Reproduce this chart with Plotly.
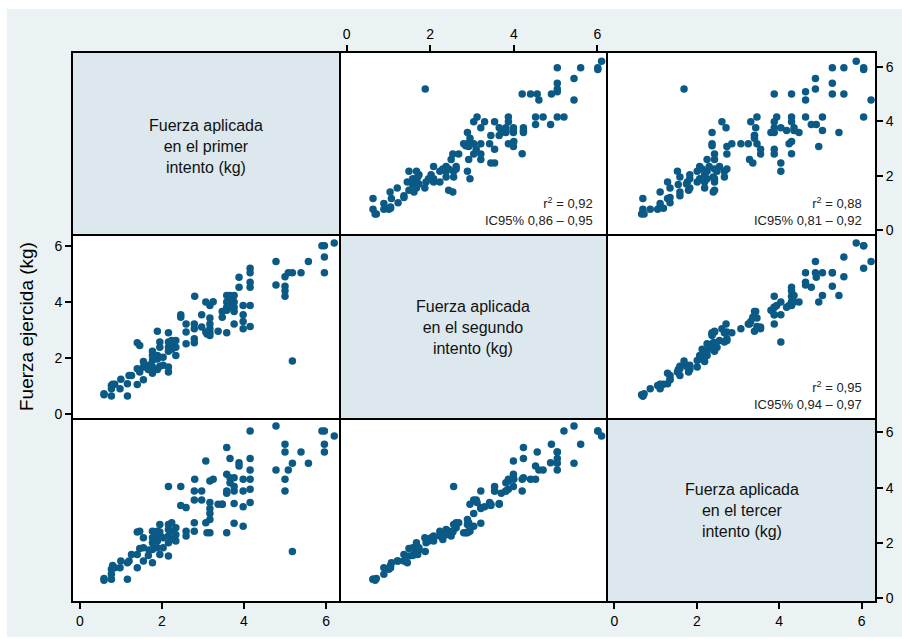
import plotly.graph_objects as go

# ---- data: (primer, segundo, tercer intento) in kg ----
intento1 = [0.59, 0.59, 0.77, 0.77, 0.77, 0.80, 0.85, 0.98, 1.00, 1.16, 1.16, 1.20, 1.26,
            1.40, 1.40, 1.46, 1.40, 1.46, 1.55, 1.55, 1.55, 1.67, 1.69, 1.77, 1.77, 1.77,
            1.77, 1.77, 1.89, 1.89, 1.89, 1.89, 1.95, 1.95, 1.95, 2.03, 2.03, 2.16, 2.16,
            2.16, 2.16, 2.16, 2.16, 2.24, 2.24, 2.24, 2.34, 2.34, 2.34, 2.46, 2.46, 2.59,
            2.59, 2.59, 2.80, 2.79, 2.79, 2.79, 2.79, 2.97, 2.97, 3.07, 3.07, 3.10, 3.17,
            3.17, 3.17, 3.17, 3.17, 3.17, 3.25, 3.37, 3.47, 3.47, 3.58, 3.58, 3.58, 3.58,
            3.58, 3.66, 3.66, 3.66, 3.76, 3.76, 3.76, 3.76, 3.76, 3.88, 3.88, 3.98, 3.98,
            3.98, 3.98, 4.15, 4.15, 4.15, 4.15, 4.15, 4.15, 4.78, 4.78, 5.00, 5.00, 5.00,
            5.00, 5.08, 5.18, 5.18, 5.39, 5.57, 5.90, 5.96, 5.96, 5.96, 6.20]
intento2 = [0.71, 0.68, 0.63, 0.89, 1.01, 1.05, 1.05, 0.89, 1.23, 0.63, 1.07, 1.37, 1.37,
            1.04, 1.61, 1.49, 2.54, 2.44, 1.21, 1.67, 1.87, 1.58, 1.73, 1.45, 1.67, 1.90,
            2.08, 2.23, 1.58, 1.96, 2.08, 2.95, 1.70, 2.38, 2.56, 1.73, 2.02, 1.49, 1.67,
            2.23, 2.38, 2.56, 2.89, 2.30, 2.44, 2.62, 2.08, 2.38, 2.62, 3.54, 3.45, 3.21,
            2.92, 2.50, 4.20, 3.21, 3.04, 2.68, 2.54, 3.54, 3.10, 3.99, 2.92, 2.85, 3.87,
            3.42, 3.21, 3.04, 2.89, 2.80, 4.00, 2.95, 3.65, 3.45, 4.23, 3.99, 3.81, 3.70,
            2.89, 4.23, 3.99, 3.81, 4.23, 3.99, 3.81, 3.65, 3.21, 4.88, 4.52, 3.87, 3.54,
            3.30, 3.04, 5.20, 5.04, 4.70, 4.52, 3.87, 3.12, 5.44, 4.60, 4.90, 4.56, 4.40,
            4.20, 5.04, 5.04, 1.88, 5.04, 5.44, 6.01, 6.01, 5.60, 5.04, 6.10]
intento3 = [0.72, 0.66, 0.69, 0.87, 1.05, 1.19, 1.11, 1.11, 1.35, 0.69, 1.29, 1.35, 1.59,
            1.11, 1.59, 1.80, 2.40, 2.43, 1.35, 1.83, 2.19, 1.55, 1.75, 1.29, 1.77, 2.01,
            2.19, 2.43, 1.83, 2.07, 2.25, 2.43, 1.59, 2.40, 2.67, 1.83, 2.19, 1.53, 2.01,
            2.25, 2.49, 4.04, 2.67, 2.13, 2.43, 2.73, 2.07, 2.30, 2.55, 4.04, 3.36, 3.28,
            2.43, 2.25, 4.30, 3.88, 3.55, 2.73, 2.43, 3.88, 3.55, 4.96, 2.73, 2.37, 4.24,
            3.46, 3.25, 3.07, 2.85, 2.37, 4.30, 3.40, 3.40, 3.40, 5.45, 4.48, 3.88, 3.80,
            2.37, 5.05, 4.36, 4.18, 4.36, 4.04, 3.88, 3.43, 2.71, 4.90, 4.78, 4.30, 3.88,
            3.31, 2.61, 6.05, 5.05, 4.64, 4.30, 3.94, 3.46, 6.23, 4.64, 5.57, 5.29, 4.30,
            3.88, 4.64, 4.88, 1.69, 5.29, 4.88, 6.05, 6.05, 5.57, 5.29, 5.87]

etiquetas = ["Fuerza aplicada<br>en el primer<br>intento (kg)",
             "Fuerza aplicada<br>en el segundo<br>intento (kg)",
             "Fuerza aplicada<br>en el tercer<br>intento (kg)"]
correlaciones = {(0, 1): "r<sup>2</sup> = 0,92<br>IC95% 0,86 – 0,95",
                 (0, 2): "r<sup>2</sup> = 0,88<br>IC95% 0,81 – 0,92",
                 (1, 2): "r<sup>2</sup> = 0,95<br>IC95% 0,94 – 0,97"}
tick_vals = [0, 2, 4, 6]
tick_text = ["0", "2", "4", "6"]
titulo_y = "Fuerza ejercida (kg)"

variables = [intento1, intento2, intento3]

# ---- layout geometry ----
W, H = 902, 639
xs_px = [72, 340, 607, 876]
ys_px = [52, 235, 419, 602]
X = [p / W for p in xs_px]
Y = [1 - p / H for p in ys_px]
x_ranges = [[-0.19, 6.34], [-0.16, 6.23], [-0.18, 6.35]]
y_ranges = [[-0.18, 6.54], [-0.19, 6.39], [-0.13, 6.48]]

MARKER = "#0b5a86"
BG = "#eaf2f3"
DIAG = "#dce8ee"
FONT = "Liberation Sans, Arial, Helvetica, sans-serif"

fig = go.Figure()
layout = dict(width=W, height=H, margin=dict(l=0, r=0, t=0, b=0, autoexpand=False),
              paper_bgcolor="white", plot_bgcolor="rgba(0,0,0,0)",
              showlegend=False, font=dict(family=FONT, color="black", size=14))
shapes = [dict(type="rect", xref="paper", yref="paper", x0=7 / W, x1=1, y0=1 - 637 / H,
               y1=1 - 9 / H, fillcolor=BG, line=dict(width=0), layer="below")]
borders = []
annotations = []

for r in range(3):
    for c in range(3):
        n = r * 3 + c + 1
        sfx = "" if n == 1 else str(n)
        xa = dict(domain=[X[c], X[c + 1]], anchor="y" + sfx, range=x_ranges[c],
                  showline=False, automargin=False,
                  showgrid=False, zeroline=False, ticks="", showticklabels=False,
                  tickvals=tick_vals, ticktext=tick_text, fixedrange=True)
        ya = dict(domain=[Y[r + 1], Y[r]], anchor="x" + sfx, range=y_ranges[r],
                  showline=False, automargin=False,
                  showgrid=False, zeroline=False, ticks="", showticklabels=False,
                  tickvals=tick_vals, ticktext=tick_text, fixedrange=True)
        tick_style = dict(ticks="outside", ticklen=6, tickwidth=2, tickcolor="black",
                          showticklabels=True, tickfont=dict(size=14, family=FONT))
        if r == 2 and c in (0, 2):
            xa.update(tick_style, side="bottom")
        if r == 0 and c == 1:
            xa.update(tick_style, side="top")
        if c == 0 and r == 1:
            ya.update(tick_style, side="left")
        if c == 2 and r in (0, 2):
            ya.update(tick_style, side="right")
        layout["xaxis" + sfx] = xa
        layout["yaxis" + sfx] = ya

        shapes.append(dict(type="rect", xref="paper", yref="paper",
                           x0=X[c], x1=X[c + 1], y0=Y[r + 1], y1=Y[r],
                           fillcolor=DIAG if r == c else "white",
                           line=dict(width=0), layer="below"))
        borders.append(dict(type="rect", xref="paper", yref="paper",
                            x0=X[c], x1=X[c + 1], y0=Y[r + 1], y1=Y[r],
                            fillcolor="rgba(0,0,0,0)",
                            line=dict(width=2, color="black"), layer="above"))
        if r == c:
            fig.add_trace(go.Scatter(x=[None], y=[None], mode="markers",
                                     xaxis="x" + sfx, yaxis="y" + sfx,
                                     hoverinfo="skip"))
            annotations.append(dict(text=etiquetas[r], xref="paper", yref="paper",
                                    x=(X[c] + X[c + 1]) / 2,
                                    y=(Y[r] + Y[r + 1]) / 2 - (3 if r == 0 else 0) / H,
                                    xanchor="center", yanchor="middle",
                                    showarrow=False, align="center",
                                    font=dict(size=16, family=FONT, color="#111")))
        else:
            fig.add_trace(go.Scatter(x=variables[c], y=variables[r], mode="markers",
                                     xaxis="x" + sfx, yaxis="y" + sfx,
                                     marker=dict(size=7.5, color=MARKER,
                                                 line=dict(width=0)),
                                     hoverinfo="skip"))
            if (r, c) in correlaciones:
                annotations.append(dict(text=correlaciones[(r, c)], xref="paper",
                                        yref="paper", x=X[c + 1] - 12 / W,
                                        y=Y[r + 1] + 5 / H, xanchor="right",
                                        yanchor="bottom", align="right",
                                        showarrow=False,
                                        font=dict(size=13, family=FONT, color="#222")))

annotations.append(dict(text=titulo_y, xref="paper", yref="paper", x=27 / W,
                        y=1 - 327 / H, textangle=-90, showarrow=False,
                        xanchor="center", yanchor="middle",
                        font=dict(size=19, family=FONT, color="black")))

layout["shapes"] = shapes + borders
layout["annotations"] = annotations
fig.update_layout(**layout)
fig.write_html("out.html", config={"displayModeBar": False, "staticPlot": True},
               post_script="document.body.style.margin='0';"
                           "document.body.style.overflow='hidden';")
